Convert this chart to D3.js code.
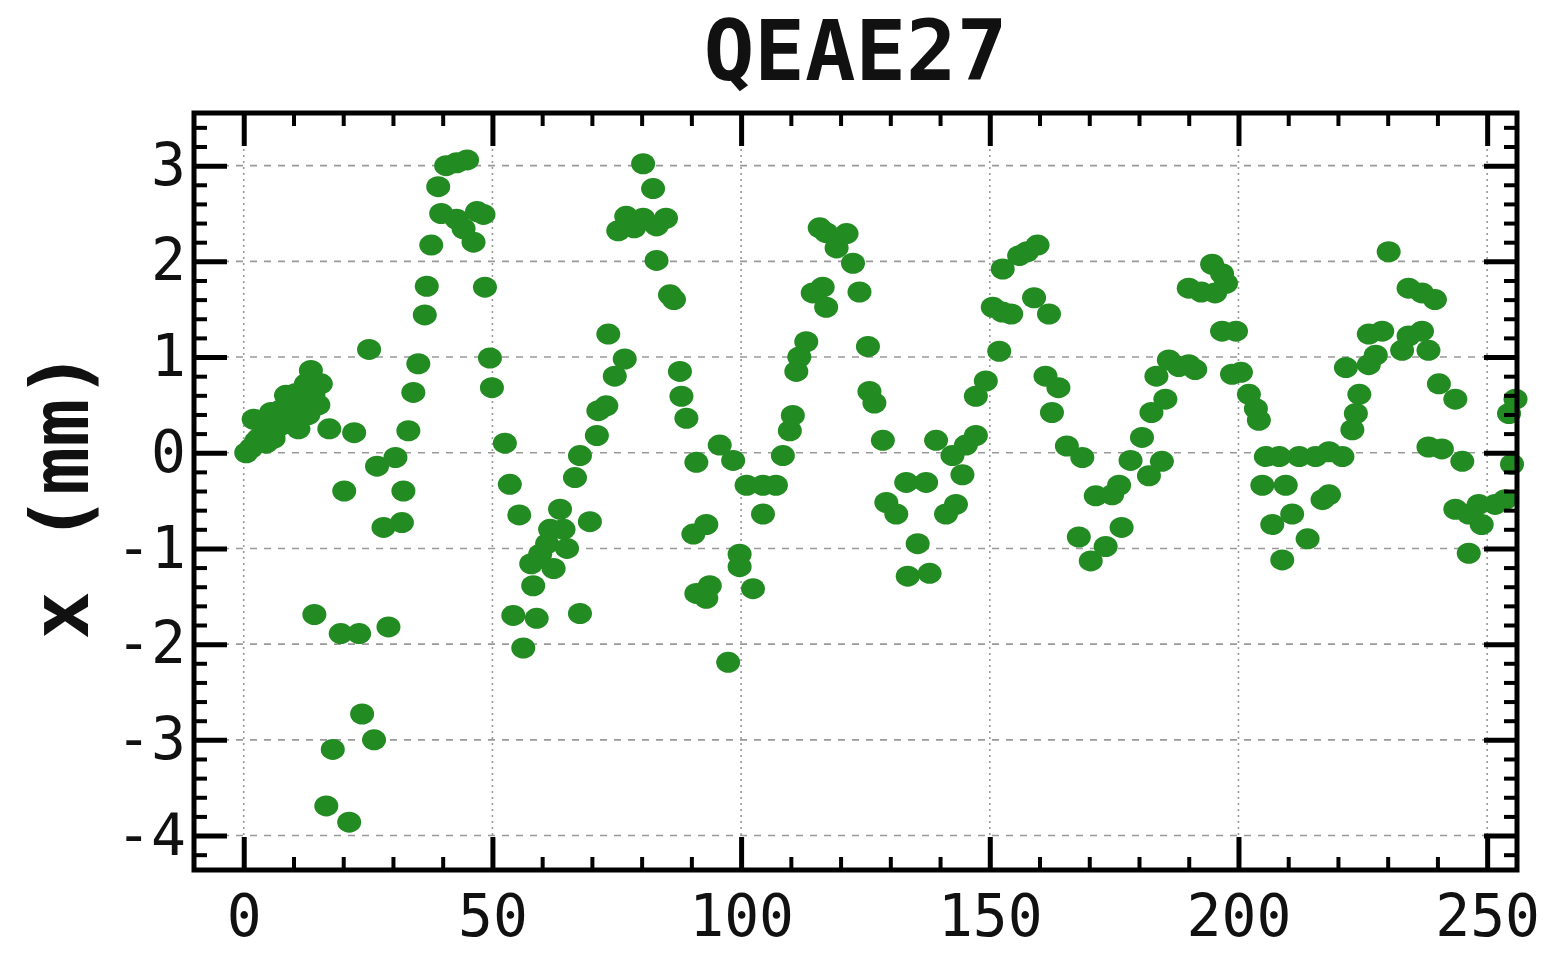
<!DOCTYPE html>
<html>
<head>
<meta charset="utf-8">
<script src="https://cdn.jsdelivr.net/npm/d3@7"></script>
<style>
body { margin: 0; background: #fff; }
</style>
</head>
<body>
<script>
//turn number and horizontal offset
var turn = [0.5, 1.5, 2, 2.5, 3, 4, 4.5, 5, 5.5, 6, 6.5, 7.5, 8, 8.5, 9, 10, 10.5, 11, 11.5, 12, 12.5, 13, 13.5, 14, 14.2, 15, 15.5, 16.6,
    17.2, 17.9, 19.5, 20.2, 21.2, 22.2, 23.2, 23.8, 25.2, 26.2, 26.8, 28.1, 29.1, 30.5, 31.8, 32.1, 33.1, 34.1, 35.1, 36.4,
    36.8, 37.7, 39.1, 39.7, 40.7, 42.8, 42.8, 44.2, 44.9, 46.2, 46.9, 48.2, 48.5, 49.5, 49.9, 52.5, 53.5, 54.2, 55.4, 56.2,
    57.8, 58.2, 58.9, 59.6, 61, 61.6, 62.3, 63.6, 64.3, 65, 66.6, 67.6, 67.6, 69.6, 71, 71.3, 72.9, 73.3, 74.6, 75.3,
    76.6, 76.9, 78.5, 80.3, 80.3, 82.3, 83, 83, 84.9, 85.7, 86.5, 87.7, 88, 89, 90.4, 91, 91, 93, 93, 93.7,
    95.7, 97.4, 98.4, 99.7, 99.7, 101.1, 102.4, 104.4, 104.4, 107, 108.4, 109.8, 110.4, 111.1, 111.7, 113.1, 114.4, 115.8, 116.4, 117.1,
    117.1, 119.2, 121.2, 122.5, 123.8, 125.5, 125.8, 126.8, 128.5, 129.2, 131.2, 133.2, 133.5, 135.5, 137.2, 137.9, 139.2, 141.2, 142.5, 143.2,
    144.5, 145.2, 147.2, 147.2, 149.2, 150.6, 151.9, 152.5, 152.6, 154.3, 155.9, 157.5, 158.9, 159.6, 161.2, 161.9, 162.5, 163.8, 165.5, 167.9,
    168.6, 170.3, 171.3, 173.3, 174.6, 176, 176.5, 178.3, 180.6, 182, 182.5, 183.5, 184.6, 185.3, 186, 188, 190, 190, 191.3, 192.5,
    194.7, 195.3, 196.7, 196.7, 197.5, 198.7, 199.5, 200.5, 202.1, 203.5, 204.1, 204.8, 205.5, 206.8, 208.2, 208.8, 209.5, 210.8, 212.2, 213.9,
    215.5, 216.9, 218.2, 218.2, 220.9, 221.6, 222.9, 223.6, 224.3, 226.2, 226.2, 227.6, 228.9, 230.2, 232.9, 234.2, 234.2, 236.9, 236.9, 238.2,
    238.2, 239.5, 240.3, 240.9, 243.6, 243.6, 245, 246.3, 246.3, 248.3, 248.9, 251.6, 253.6, 254.4, 255, 255.7];

var offsetX = [0.0, 0.05, 0.35, 0.12, 0.15, 0.3, 0.1, 0.2, 0.42, 0.15, 0.25, 0.45, 0.3, 0.6, 0.52, 0.35, 0.62, 0.25, 0.45, 0.6, 0.72, 0.4, 0.86, 0.6, -1.69, 0.5, 0.72, -3.69,
    0.25, -3.1, -1.89, -0.4, -3.86, 0.21, -1.89, -2.73, 1.08, -3.0, -0.14, -0.78, -1.82, -0.05, -0.73, -0.4, 0.23, 0.63, 0.93, 1.44,
    1.74, 2.17, 2.78, 2.5, 3.0, 3.03, 2.44, 2.34, 3.06, 2.2, 2.52, 2.49, 1.73, 0.99, 0.68, 0.1, -0.33, -1.7, -0.65, -2.04,
    -1.16, -1.39, -1.73, -1.06, -0.95, -0.8, -1.21, -0.59, -0.8, -1.0, -0.26, -1.68, -0.03, -0.72, 0.18, 0.44, 0.49, 1.24, 0.8, 2.32,
    0.98, 2.47, 2.35, 2.45, 3.02, 2.76, 2.37, 2.01, 2.45, 1.65, 1.6, 0.85, 0.59, 0.36, -0.85, -0.1, -1.47, -0.75, -1.52, -1.39,
    0.08, -2.19, -0.08, -1.06, -1.19, -0.34, -1.42, -0.34, -0.64, -0.34, -0.03, 0.23, 0.39, 0.85, 1.0, 1.16, 1.67, 2.35, 1.73, 1.52,
    2.3, 2.14, 2.29, 1.98, 1.68, 1.11, 0.64, 0.52, 0.13, -0.52, -0.64, -0.31, -1.29, -0.95, -0.31, -1.26, 0.13, -0.64, -0.03, -0.54,
    -0.23, 0.08, 0.18, 0.59, 0.75, 1.52, 1.06, 1.47, 1.92, 1.45, 2.06, 2.1, 1.62, 2.17, 0.8, 1.45, 0.42, 0.68, 0.07, -0.88,
    -0.05, -1.13, -0.45, -0.98, -0.44, -0.34, -0.78, -0.08, 0.16, -0.24, 0.42, 0.8, -0.09, 0.56, 0.97, 0.9, 0.92, 1.72, 0.87, 1.68,
    1.97, 1.67, 1.87, 1.27, 1.77, 0.82, 1.27, 0.84, 0.61, 0.46, 0.34, -0.34, -0.04, -0.75, -0.04, -1.12, -0.34, -0.64, -0.04, -0.9,
    -0.04, -0.49, 0.01, -0.44, -0.04, 0.89, 0.24, 0.41, 0.61, 1.24, 0.92, 1.02, 1.27, 2.1, 1.07, 1.72, 1.22, 1.67, 1.27, 1.07,
    0.06, 1.6, 0.72, 0.04, 0.56, -0.59, -0.09, -0.64, -1.05, -0.54, -0.75, -0.54, -0.49, 0.41, -0.12, 0.56];

var xMajor = [0, 50, 100, 150, 200, 250];
var yMajor = [-4, -3, -2, -1, 0, 1, 2, 3];
var chartTitle = "QEAE27";
var yTitle = "x (mm)";

drawChart();

function drawChart(){
    var width = 1544,
        height = 953;
    //plot frame edges
    var left = 194, right = 1517, top = 113, bottom = 870;
    var mono = "'DejaVu Sans Mono', monospace";

    var svg = d3.select("body")
        .append("svg")
        .attr("width", width)
        .attr("height", height);

    var x = d3.scaleLinear().domain([-10, 256]).range([left, right]);
    var y = d3.scaleLinear().domain([-4.36, 3.55]).range([bottom, top]);

    var xMinor = d3.range(-10, 257, 10).filter(function(d){ return d > -10 && d % 50 != 0; });
    var yMinor = d3.range(-42, 35, 2).map(function(d){ return d / 10; })
        .filter(function(d){ return Math.abs(d - Math.round(d)) > 0.01; });

    //grid lines
    svg.append("g").selectAll("line")
        .data(xMajor)
        .enter()
        .append("line")
        .attr("x1", function(d){ return x(d); })
        .attr("x2", function(d){ return x(d); })
        .attr("y1", top)
        .attr("y2", bottom)
        .attr("stroke", "#999")
        .attr("stroke-width", 1.6)
        .attr("stroke-dasharray", "2,4");

    svg.append("g").selectAll("line")
        .data(yMajor)
        .enter()
        .append("line")
        .attr("x1", left)
        .attr("x2", right)
        .attr("y1", function(d){ return y(d); })
        .attr("y2", function(d){ return y(d); })
        .attr("stroke", "#999")
        .attr("stroke-width", 1.6)
        .attr("stroke-dasharray", "7,7");

    //points
    svg.append("g").selectAll("ellipse")
        .data(turn)
        .enter()
        .append("ellipse")
        .attr("cx", function(d){ return x(d); })
        .attr("cy", function(d, i){ return y(offsetX[i]); })
        .attr("rx", 12)
        .attr("ry", 10.5)
        .attr("fill", "#228b22");

    //ticks on all four sides, pointing in
    function addAxis(axis, tx, ty, size, width){
        var g = svg.append("g")
            .attr("transform", "translate(" + tx + "," + ty + ")")
            .call(axis.tickSize(-size));
        g.select(".domain").remove();
        g.selectAll(".tick line").attr("stroke", "#000").attr("stroke-width", width);
        return g;
    }
    //plain hyphen for negatives, as in the original
    var plain = function(d){ return String(d); };

    addAxis(d3.axisBottom(x).tickValues(xMinor).tickFormat(""), 0, bottom, 13, 4);
    addAxis(d3.axisTop(x).tickValues(xMinor).tickFormat(""), 0, top, 13, 4);
    addAxis(d3.axisLeft(y).tickValues(yMinor).tickFormat(""), left, 0, 13, 4);
    addAxis(d3.axisRight(y).tickValues(yMinor).tickFormat(""), right, 0, 13, 4);
    addAxis(d3.axisTop(x).tickValues(xMajor).tickFormat(""), 0, top, 33, 5);
    addAxis(d3.axisRight(y).tickValues(yMajor).tickFormat(""), right, 0, 33, 5);

    var xAxis = addAxis(d3.axisBottom(x).tickValues(xMajor).tickFormat(plain).tickPadding(25), 0, bottom, 33, 5);
    xAxis.selectAll("text")
        .attr("font-family", mono)
        .attr("font-size", 58)
        .attr("fill", "#111");

    var yAxis = addAxis(d3.axisLeft(y).tickValues(yMajor).tickFormat(plain).tickPadding(8), left, 0, 33, 5);
    yAxis.selectAll("text")
        .attr("font-family", mono)
        .attr("font-size", 58)
        .attr("fill", "#111");

    //frame
    svg.append("rect")
        .attr("x", left)
        .attr("y", top)
        .attr("width", right - left)
        .attr("height", bottom - top)
        .attr("fill", "none")
        .attr("stroke", "#000")
        .attr("stroke-width", 5);

    //title and y label
    svg.append("text")
        .attr("x", (left + right) / 2)
        .attr("y", 80)
        .attr("text-anchor", "middle")
        .attr("font-family", mono)
        .attr("font-weight", "bold")
        .attr("font-size", 84)
        .attr("fill", "#111")
        .text(chartTitle);

    svg.append("text")
        .attr("transform", "translate(88,495) rotate(-90)")
        .attr("text-anchor", "middle")
        .attr("font-family", mono)
        .attr("font-weight", "bold")
        .attr("font-size", 80)
        .attr("fill", "#111")
        .text(yTitle);
};
</script>
</body>
</html>
